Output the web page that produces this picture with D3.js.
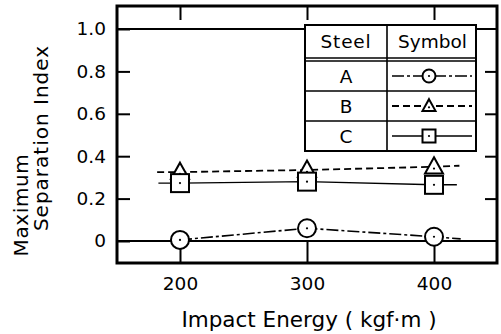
<!DOCTYPE html>
<html>
<head>
<meta charset="utf-8">
<script src="https://cdn.jsdelivr.net/npm/d3@7"></script>
<style>
  body { margin: 0; background: #fff; }
  svg { display: block; }
  text { font-family: 'DejaVu Sans', sans-serif; fill: #000; }
</style>
</head>
<body>
<svg id="chart" width="501" height="334"></svg>
<script>
(function() {

  'use strict';

  // data
  var energy = [200, 300, 400];
  var steelA = [0.005, 0.06, 0.02];
  var steelB = [0.325, 0.335, 0.35];
  var steelC = [0.273, 0.28, 0.265];
  // where each drawn line starts / stops (x in kgf.m, y as index)
  var lineStart = {A: [200, 0.005], B: [182, 0.325], C: [183, 0.273]};
  var lineEnd   = {A: [421, 0.01],  B: [420, 0.355], C: [418, 0.265]};

  var steels = ['A', 'B', 'C'];
  var yTicks = [0, 0.2, 0.4, 0.6, 0.8, 1.0];
  var yTickLabels = ['0', '0.2', '0.4', '0.6', '0.8', '1.0'];

  var series = [
    {id: 'A', values: steelA, symbol: 'circle', dash: '12,3,3,3', width: 1.6},
    {id: 'B', values: steelB, symbol: 'triangle', dash: '7,4', width: 1.8},
    {id: 'C', values: steelC, symbol: 'square', dash: null, width: 1.4}
  ];

  var svg = d3.select('#chart');
  var frame = {left: 117, right: 497, top: 6, bottom: 263};
  var font = 'DejaVu Sans';

  var x = d3.scaleLinear().domain([150.4, 449.6]).range([frame.left, frame.right]);
  var y = d3.scaleLinear().domain([-0.1038, 1.1085]).range([frame.bottom, frame.top]);

  // axes: ticks point inward, only left and bottom carry labels
  var left = svg.append('g').attr('transform', 'translate(' + frame.left + ',0)')
    .call(d3.axisLeft(y).tickValues(yTicks).tickSize(-13).tickPadding(11)
      .tickFormat(function(d, i) { return yTickLabels[i]; }));
  left.select('.domain').remove();
  left.selectAll('line').attr('stroke-width', 2);
  left.selectAll('text').attr('font-size', 18.5).attr('font-family', font);

  var right = svg.append('g').attr('transform', 'translate(' + frame.right + ',0)')
    .call(d3.axisRight(y).tickValues(yTicks.slice(1, 5)).tickSize(-12).tickFormat(''));
  right.select('.domain').remove();
  right.selectAll('line').attr('stroke-width', 2);

  var bottom = svg.append('g').attr('transform', 'translate(0,' + frame.bottom + ')')
    .call(d3.axisBottom(x).tickValues(energy).tickSize(-22).tickPadding(14));
  bottom.select('.domain').remove();
  bottom.selectAll('line').attr('stroke-width', 2);
  bottom.selectAll('text').attr('font-size', 18.5).attr('font-family', font);

  var top = svg.append('g').attr('transform', 'translate(0,' + frame.top + ')')
    .call(d3.axisTop(x).tickValues(energy).tickSize(-14).tickFormat(''));
  top.select('.domain').remove();
  top.selectAll('line').attr('stroke-width', 2);

  // reference lines at 0 and 1.0
  svg.selectAll('.refLine').data([0, 1.0]).enter().append('line')
    .attr('class', 'refLine')
    .attr('x1', frame.left).attr('x2', frame.right)
    .attr('y1', function(d) { return y(d); }).attr('y2', function(d) { return y(d); })
    .attr('stroke', '#000').attr('stroke-width', 2);

  svg.append('rect')
    .attr('x', frame.left).attr('y', frame.top)
    .attr('width', frame.right - frame.left).attr('height', frame.bottom - frame.top)
    .attr('fill', 'none').attr('stroke', '#000').attr('stroke-width', 3);

  // series lines
  var line = d3.line().x(function(d) { return x(d[0]); }).y(function(d) { return y(d[1]); });
  series.forEach(function(s) {
    var pts = [lineStart[s.id]];
    energy.forEach(function(e, i) { pts.push([e, s.values[i]]); });
    pts.push(lineEnd[s.id]);
    svg.append('path').datum(pts)
      .attr('d', line)
      .attr('fill', 'none')
      .attr('stroke', '#000')
      .attr('stroke-width', s.width)
      .attr('stroke-dasharray', s.dash);
  });

  function drawSymbol(g, type, cx, cy, size) {
    var h = size / 2;
    if (type === 'circle') {
      g.append('circle').attr('cx', cx).attr('cy', cy).attr('r', h);
    } else if (type === 'square') {
      g.append('rect').attr('x', cx - h).attr('y', cy - h).attr('width', size).attr('height', size);
    } else {
      g.append('path').attr('d', 'M' + cx + ',' + (cy - h * 1.05) + 'L' + (cx + h) + ',' + (cy + h * 0.75) +
        'L' + (cx - h) + ',' + (cy + h * 0.75) + 'Z');
    }
    g.selectAll('circle,rect,path').attr('fill', '#fff').attr('stroke', '#000').attr('stroke-width', 2);
    g.append('circle').attr('cx', cx).attr('cy', cy + (type === 'triangle' ? h * 0.2 : 0)).attr('r', 1.1).attr('fill', '#000');
  }

  // markers: circle, triangle, then square on top
  series.forEach(function(s) {
    energy.forEach(function(e, i) {
      drawSymbol(svg.append('g'), s.symbol, x(e), y(s.values[i]), 18);
    });
  });

  // axis titles
  svg.append('text').attr('x', 309).attr('y', 327).attr('text-anchor', 'middle')
    .attr('font-size', 21.5).text('Impact Energy ( kgf\u00b7m )');
  svg.append('text').attr('transform', 'translate(28,205) rotate(-90)').attr('text-anchor', 'middle')
    .attr('font-size', 20).attr('letter-spacing', 0.6).text('Maximum');
  svg.append('text').attr('transform', 'translate(48,138) rotate(-90)').attr('text-anchor', 'middle')
    .attr('font-size', 20).attr('letter-spacing', 1).text('Separation Index');

  // legend table
  var lg = svg.append('g');
  var tbl = {x0: 305, x1: 387, x2: 476, rows: [25, 58, 61, 91, 121, 151]};
  lg.append('rect').attr('x', tbl.x0).attr('y', tbl.rows[0])
    .attr('width', tbl.x2 - tbl.x0).attr('height', tbl.rows[5] - tbl.rows[0])
    .attr('fill', '#fff').attr('stroke', '#000').attr('stroke-width', 2);
  lg.selectAll('.rowLine').data(tbl.rows.slice(1, 5)).enter().append('line')
    .attr('x1', tbl.x0).attr('x2', tbl.x2).attr('y1', function(d) { return d; }).attr('y2', function(d) { return d; })
    .attr('stroke', '#000').attr('stroke-width', 1.6);
  lg.append('line').attr('x1', tbl.x1).attr('x2', tbl.x1).attr('y1', tbl.rows[0]).attr('y2', tbl.rows[5])
    .attr('stroke', '#000').attr('stroke-width', 1.6);
  lg.append('text').attr('x', (tbl.x0 + tbl.x1) / 2).attr('y', 48).attr('text-anchor', 'middle')
    .attr('font-size', 18.5).attr('letter-spacing', 0.8).text('Steel');
  lg.append('text').attr('x', (tbl.x1 + tbl.x2) / 2 + 1).attr('y', 48).attr('text-anchor', 'middle')
    .attr('font-size', 18.5).text('Symbol');
  series.forEach(function(s, i) {
    var cy = (tbl.rows[i + 2] + tbl.rows[i + 3]) / 2;
    lg.append('text').attr('x', (tbl.x0 + tbl.x1) / 2).attr('y', cy + 7).attr('text-anchor', 'middle')
      .attr('font-size', 18.5).text(steels[i]);
    lg.append('line').attr('x1', tbl.x1 + 5).attr('x2', tbl.x2 - 4).attr('y1', cy).attr('y2', cy)
      .attr('stroke', '#000').attr('stroke-width', s.width).attr('stroke-dasharray', s.dash);
    drawSymbol(lg.append('g'), s.symbol, 429, cy, 13);
  });

})();
</script>
</body>
</html>
